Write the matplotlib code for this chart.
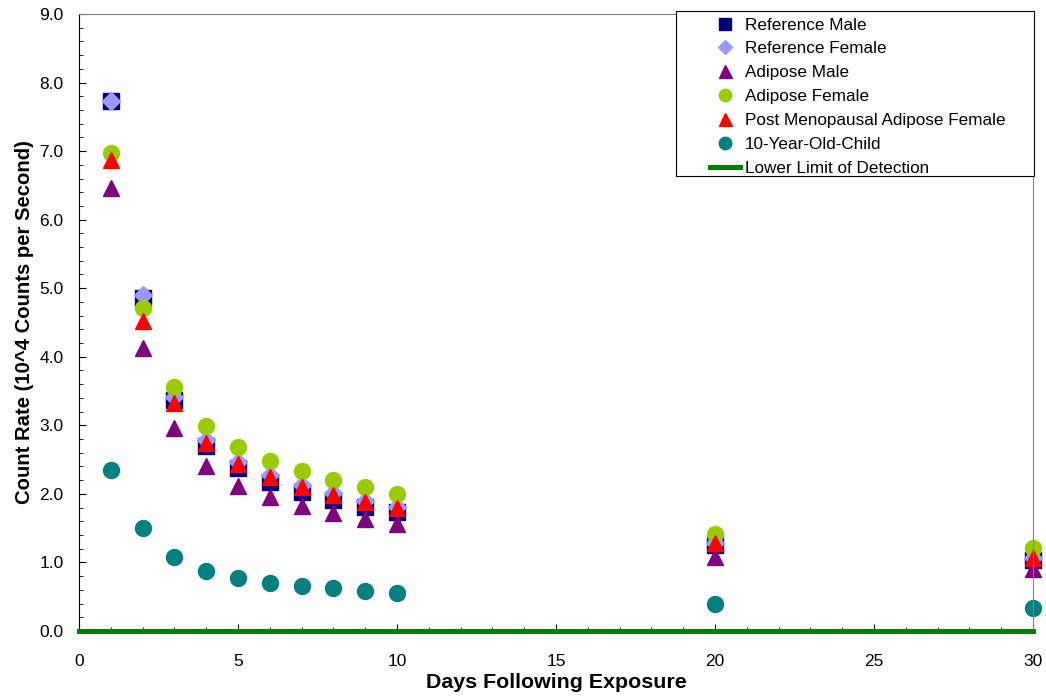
import numpy as np
import matplotlib
matplotlib.use('Agg')
import matplotlib.pyplot as plt
from matplotlib.patches import Rectangle
from matplotlib.ticker import MultipleLocator, FormatStrFormatter

plt.rcParams['font.family'] = ['Liberation Sans', 'DejaVu Sans']

# days after exposure
days = [1, 2, 3, 4, 5, 6, 7, 8, 9, 10, 20, 30]

# count rates (10^4 counts per second)
ref_male = [7.73, 4.85, 3.37, 2.70, 2.38, 2.18, 2.03, 1.91, 1.81, 1.73, 1.25, 1.04]
ref_female = [7.73, 4.90, 3.42, 2.79, 2.47, 2.28, 2.13, 2.01, 1.90, 1.81, 1.28, 1.06]
adipose_male = [6.46, 4.13, 2.96, 2.41, 2.11, 1.95, 1.82, 1.72, 1.63, 1.56, 1.08, 0.91]
adipose_female = [6.97, 4.71, 3.56, 2.99, 2.69, 2.48, 2.33, 2.20, 2.10, 2.00, 1.42, 1.21]
post_meno = [6.87, 4.52, 3.33, 2.74, 2.44, 2.24, 2.10, 1.98, 1.88, 1.80, 1.28, 1.07]
child = [2.35, 1.50, 1.08, 0.87, 0.77, 0.70, 0.66, 0.62, 0.59, 0.56, 0.39, 0.33]
lld = 0.0

fig = plt.figure(figsize=(10.46, 6.98), dpi=100)
ax = fig.add_axes([0.0755, 0.096, 0.912, 0.884])

ax.plot(days, ref_male, 's', color='#000080', ms=11, ls='none', label='Reference Male', clip_on=False)
ax.plot(days, ref_female, 'D', color='#9999FF', ms=9, ls='none', label='Reference Female', clip_on=False)
ax.plot(days, adipose_male, '^', color='#800080', ms=12, ls='none', label='Adipose Male', clip_on=False)
ax.plot(days, adipose_female, 'o', color='#99CC00', ms=11.5, ls='none', label='Adipose Female', clip_on=False)
ax.plot(days, post_meno, '^', color='#FF0000', ms=12, ls='none', label='Post Menopausal Adipose Female', clip_on=False)
ax.plot(days, child, 'o', color='#008080', ms=11.5, ls='none', label='10-Year-Old-Child', clip_on=False)
ax.axhline(lld, color='#008000', lw=3.6, label='Lower Limit of Detection', zorder=5, clip_on=False)

ax.set_xlim(0, 30)
ax.set_ylim(0, 9)
ax.xaxis.set_major_locator(MultipleLocator(5))
ax.xaxis.set_minor_locator(MultipleLocator(1))
ax.yaxis.set_major_locator(MultipleLocator(1))
ax.yaxis.set_minor_locator(MultipleLocator(0.2))
ax.yaxis.set_major_formatter(FormatStrFormatter('%.1f'))
ax.tick_params(which='both', direction='in', labelsize=12.5, top=False, right=False)
ax.tick_params(which='major', length=5)
ax.tick_params(which='minor', length=3)
ax.tick_params(axis='x', pad=16.5)
ax.tick_params(axis='y', pad=11)

for s in ['top', 'right']:
    ax.spines[s].set_color('#808080')

ax.set_xlabel('Days Following Exposure', fontsize=15.4, fontweight='bold', labelpad=3)
ax.set_ylabel('Count Rate (10^4 Counts per Second)', fontsize=14.6, fontweight='bold', labelpad=4)

# legend box is wider than its content in the original, so draw the frame separately
frame = Rectangle((676 / 1046, 1 - 176 / 698), 358 / 1046, 165 / 698, transform=fig.transFigure,
                  facecolor='white', edgecolor='black', lw=0.8, zorder=5)
fig.add_artist(frame)

handles, labels = ax.get_legend_handles_labels()
leg = fig.legend(handles, labels, loc='upper left', bbox_to_anchor=(710 / 1046, 1 - 17.5 / 698),
                 fontsize=12.3, frameon=False, borderpad=0, labelspacing=0.52,
                 handlelength=1.75, handletextpad=0.3, markerscale=0.78, borderaxespad=0)
leg.set_zorder(6)

fig.savefig('out.png', dpi=100)
